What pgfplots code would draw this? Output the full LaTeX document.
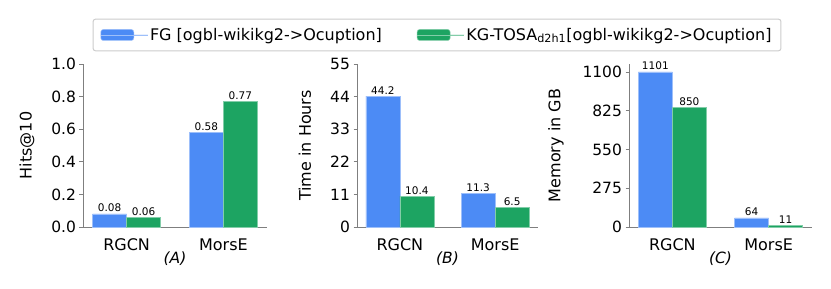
\documentclass[border=0pt]{standalone}
\usepackage{fontspec}
\setmainfont{DejaVu Sans}
\usepackage{pgfplots}
\pgfplotsset{compat=1.18}
\definecolor{fgblue}{HTML}{4C8BF5}
\definecolor{kggreen}{HTML}{1DA462}
\definecolor{spine}{HTML}{7F7F7F}
\pgfplotsset{
  panel/.style={
    scale only axis,
    anchor=south west,
    axis x line*=bottom,
    axis y line*=left,
    axis line style={spine, line width=0.9pt, -},
    xmin=-0.45, xmax=1.45, ymin=0,
    xtick={0,1}, xticklabels={RGCN,MorsE},
    x tick style={draw=none},
    y tick style={spine, line width=0.8pt},
    major tick length=3.5pt,
    tick align=outside,
    bar width=34pt,
    ticklabel style={font=\fontsize{15.5}{18}\selectfont},
    xticklabel style={font=\fontsize{16}{19}\selectfont, anchor=base, yshift=-20pt},
    ylabel style={at={(axis description cs:0,0.5)}, anchor=center, font=\fontsize{16}{19}\selectfont},
    xlabel style={at={(axis description cs:0.5,0)}, anchor=base, yshift=-37pt, font=\fontsize{15.5}{18}\selectfont\itshape},
    nodes near coords,
    point meta=explicit symbolic,
    every node near coord/.append style={font=\fontsize{10.5}{12}\selectfont, anchor=base, yshift=2pt, inner sep=0pt, text=black},
    clip=false,
  },
  fgbar/.style={ybar, bar shift=-17pt, fill=fgblue, draw=fgblue!55!white, line width=0.5pt,
    every node near coord/.append style={xshift=-17pt}},
  kgbar/.style={ybar, bar shift=17pt, fill=kggreen, draw=kggreen!55!white, line width=0.5pt,
    every node near coord/.append style={xshift=17pt}},
}
\begin{document}
\begin{tikzpicture}
\path[use as bounding box] (0,0) rectangle (831pt,289pt);
% (A)
\begin{axis}[panel, at={(83pt,62pt)}, width=184pt, height=163pt,
  ymax=1.0, ytick={0,0.2,0.4,0.6,0.8,1.0},
  yticklabels={0.0,0.2,0.4,0.6,0.8,1.0},
  ylabel={Hits@10}, ylabel style={yshift=56pt},
  xlabel={(A)},
  legend columns=2,
  legend image code/.code={\fill[#1] (0pt,-5.5pt) rectangle (33pt,5.5pt); \path (0pt,0pt) -- (47pt,0pt);},
  legend style={at={(1.924,1.178)}, anchor=center, draw=black!20, line width=1pt,
    rounded corners=2.5pt, fill=white, font=\fontsize{16}{19}\selectfont,
    inner xsep=7.5pt, inner ysep=7pt,
    /tikz/every even column/.append style={column sep=33pt}},
  ]
\addplot[fgbar] coordinates {(0,0.08) [0.08] (1,0.58) [0.58]};
\addlegendentry{FG [ogbl-wikikg2->Ocuption]}
\addplot[kgbar] coordinates {(0,0.06) [0.06] (1,0.77) [0.77]};
\addlegendentry{KG-TOSA\textsubscript{d2h1}[ogbl-wikikg2->Ocuption]}
\end{axis}
% (B)
\begin{axis}[panel, at={(357pt,62pt)}, width=181pt, height=163pt,
  ymax=55, ytick={0,11,22,33,44,55},
  yticklabels={0,11,22,33,44,55},
  ylabel={Time in Hours}, ylabel style={yshift=52pt},
  xlabel={(B)},
  ]
\addplot[fgbar] coordinates {(0,44.2) [44.2] (1,11.3) [11.3]};
\addplot[kgbar] coordinates {(0,10.4) [10.4] (1,6.5) [6.5]};
\end{axis}
% (C)
\begin{axis}[panel, at={(629pt,62pt)}, width=183pt, height=163pt,
  ymax=1157, ytick={0,275,550,825,1100},
  yticklabels={0,275,550,825,1100},
  ylabel={Memory in GB}, ylabel style={yshift=73pt},
  xlabel={(C)},
  ]
\addplot[fgbar] coordinates {(0,1101) [1101] (1,64) [64]};
\addplot[kgbar] coordinates {(0,850) [850] (1,11) [11]};
\end{axis}
\end{tikzpicture}
\end{document}
